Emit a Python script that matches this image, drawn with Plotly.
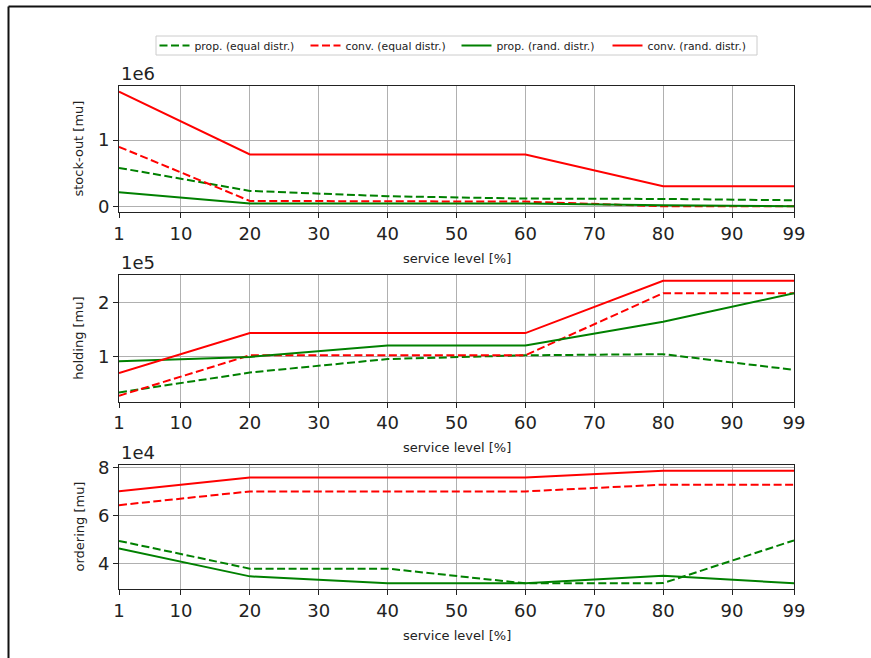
import plotly.graph_objects as go

# ---- data ----
service_level = [1, 20, 40, 60, 80, 99]
x_ticks = [1, 10, 20, 30, 40, 50, 60, 70, 80, 90, 99]

series_names = ["prop. (equal distr.)", "conv. (equal distr.)",
                "prop. (rand. distr.)", "conv. (rand. distr.)"]

stockout_prop_equal = [0.585e6, 0.24e6, 0.16e6, 0.125e6, 0.12e6, 0.10e6]
stockout_conv_equal = [0.90e6, 0.09e6, 0.085e6, 0.08e6, 0.01e6, 0.01e6]
stockout_prop_rand = [0.22e6, 0.05e6, 0.05e6, 0.05e6, 0.025e6, 0.01e6]
stockout_conv_rand = [1.725e6, 0.785e6, 0.785e6, 0.785e6, 0.31e6, 0.31e6]

holding_prop_equal = [0.33e5, 0.70e5, 0.95e5, 1.02e5, 1.04e5, 0.75e5]
holding_conv_equal = [0.27e5, 1.02e5, 1.02e5, 1.02e5, 2.17e5, 2.17e5]
holding_prop_rand = [0.91e5, 0.99e5, 1.20e5, 1.20e5, 1.64e5, 2.17e5]
holding_conv_rand = [0.69e5, 1.43e5, 1.43e5, 1.43e5, 2.40e5, 2.40e5]

ordering_prop_equal = [4.95e4, 3.80e4, 3.80e4, 3.19e4, 3.20e4, 4.97e4]
ordering_conv_equal = [6.43e4, 7.00e4, 7.00e4, 7.00e4, 7.28e4, 7.28e4]
ordering_prop_rand = [4.64e4, 3.48e4, 3.19e4, 3.19e4, 3.51e4, 3.19e4]
ordering_conv_rand = [7.01e4, 7.58e4, 7.58e4, 7.58e4, 7.86e4, 7.86e4]

panels = [
    ("stock-out [mu]", "1e6", [0, 1e6], ["0", "1"],
     [stockout_prop_equal, stockout_conv_equal, stockout_prop_rand, stockout_conv_rand]),
    ("holding [mu]", "1e5", [1e5, 2e5], ["1", "2"],
     [holding_prop_equal, holding_conv_equal, holding_prop_rand, holding_conv_rand]),
    ("ordering [mu]", "1e4", [4e4, 6e4, 8e4], ["4", "6", "8"],
     [ordering_prop_equal, ordering_conv_equal, ordering_prop_rand, ordering_conv_rand]),
]

colors = ["#008000", "#ff0000", "#008000", "#ff0000"]
dashes = ["8px,3.5px", "8px,3.5px", "solid", "solid"]

# ---- layout geometry ----
W, H = 871, 658
ML, MR, MT, MB = 119, 77, 86, 69
PW = W - ML - MR
PH = H - MT - MB

def py(pix):  # pixel y -> paper y
    return (H - MB - pix) / PH

def px(pix):
    return (pix - ML) / PW

box_tops = [86, 275, 465]
box_bots = [212, 401.5, 589]
domains = [[py(b), py(t)] for t, b in zip(box_tops, box_bots)]
domains[0][1] = 1.0
domains[2][0] = 0.0

fig = go.Figure()
font_family = "DejaVu Sans"
tick_font = dict(family=font_family, size=18, color="#222222")
label_size = 13

annotations = []
for i, (ytitle, offset, tvals, ttext, data) in enumerate(panels):
    ax = "" if i == 0 else str(i + 1)
    for j, ys in enumerate(data):
        fig.add_trace(go.Scatter(
            x=service_level, y=ys, mode="lines", name=series_names[j],
            line=dict(color=colors[j], width=2, dash=dashes[j]),
            showlegend=(i == 0), xaxis="x" + ax, yaxis="y" + ax,
            hoverinfo="skip",
        ))
    allv = [v for s in data for v in s]
    lo, hi = min(allv), max(allv)
    pad = (hi - lo) * 0.05
    common = dict(showline=True, linecolor="#222222", linewidth=1, mirror=True,
                  showgrid=True, gridcolor="#b0b0b0", gridwidth=1,
                  ticks="outside", ticklen=5, tickwidth=1, tickcolor="#222222",
                  tickfont=tick_font, zeroline=False)
    fig.update_layout(**{
        "xaxis" + ax: dict(domain=[0, 1], anchor="y" + ax, range=[1, 99],
                           tickvals=x_ticks, ticktext=[str(t) for t in x_ticks], **common),
        "yaxis" + ax: dict(domain=domains[i], anchor="x" + ax, range=[lo - pad, hi + pad],
                           tickvals=tvals, ticktext=ttext, **common),
    })
    # offset text
    annotations.append(dict(x=0, y=domains[i][1], xref="paper", yref="paper",
                            text=offset, showarrow=False, xanchor="left", yanchor="bottom",
                            yshift=0, font=dict(family=font_family, size=18, color="#222222")))
    # y title
    annotations.append(dict(x=px(78.5), y=(domains[i][0] + domains[i][1]) / 2,
                            xref="paper", yref="paper", text=ytitle, textangle=-90,
                            showarrow=False, xanchor="center", yanchor="middle",
                            font=dict(family=font_family, size=label_size, color="#222222")))
    # x title
    annotations.append(dict(x=0.5, y=py(box_bots[i] + 46), xref="paper", yref="paper",
                            text="service level [%]", showarrow=False,
                            xanchor="center", yanchor="middle",
                            font=dict(family=font_family, size=label_size, color="#222222")))

shapes = [
    # outer frame (top / left)
    dict(type="line", xref="paper", yref="paper", x0=px(8.5), x1=px(W + 5),
         y0=py(6.5), y1=py(6.5), line=dict(color="#111111", width=2)),
    dict(type="line", xref="paper", yref="paper", x0=px(8.5), x1=px(8.5),
         y0=py(6.5), y1=py(H + 5), line=dict(color="#111111", width=2)),
    # legend box
    dict(type="rect", xref="paper", yref="paper", x0=px(156), x1=px(757),
         y0=py(55), y1=py(36), line=dict(color="#cccccc", width=1),
         fillcolor="white", layer="below"),
]

fig.update_layout(
    width=W, height=H,
    margin=dict(l=ML, r=MR, t=MT, b=MB),
    paper_bgcolor="white", plot_bgcolor="white",
    annotations=annotations, shapes=shapes,
    legend=dict(orientation="h", x=0.5, xanchor="center", y=py(45.5), yanchor="middle",
                font=dict(family=font_family, size=10.8, color="#222222"),
                borderwidth=0, bgcolor="rgba(0,0,0,0)",
                itemwidth=30, entrywidth=106, tracegroupgap=0),
    showlegend=True,
)

fig.write_html("out.html", config={"displayModeBar": False},
               post_script="document.body.style.margin='0px';")
